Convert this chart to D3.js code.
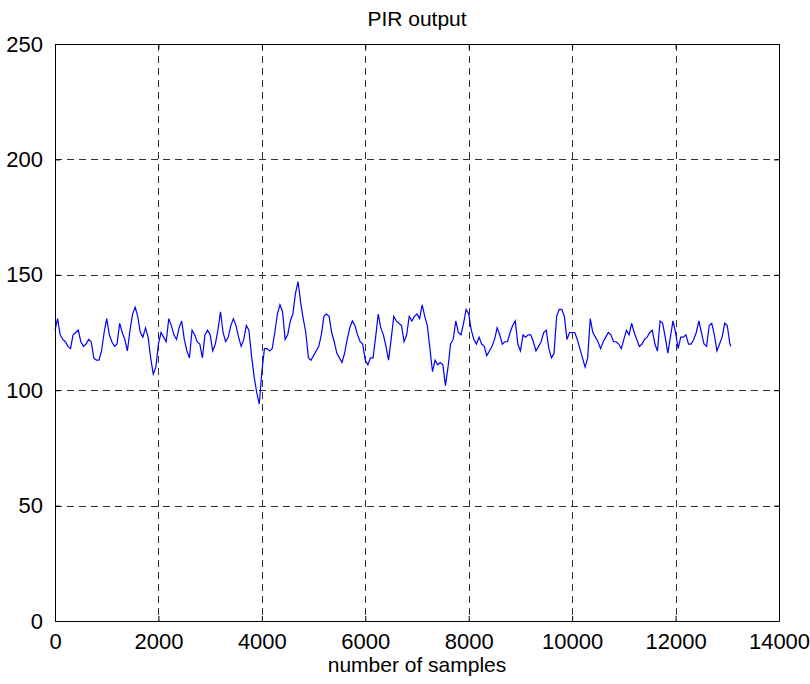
<!DOCTYPE html>
<html lang="en">
<head>
<meta charset="utf-8">
<style>
  body { margin: 0; background: white; }
  svg { background: white; display: block; }
  text { font-family: "Liberation Sans", Arial, Helvetica, sans-serif; fill: black; }
  .grid line { stroke: #333; stroke-width: 1; stroke-dasharray: 7,5; }
  .signal { fill: none; stroke: #0000ff; stroke-width: 1.2; }
</style>
<script src="https://d3js.org/d3.v7.min.js"></script>
</head>
<body>
<script>
// PIR readings, one value every 50 samples
var sampleStep = 50;
var pirValues = [
  126,131,124,122,121,119,118,124,125,126, 121,119,120,122,121,114,113,113,117,125,
  131,124,121,119,120,129,125,122,117,126, 133,136,132,125,123,127,123,114,107,110,
  120,125,123,121,131,128,124,122,127,130, 122,117,114,126,124,121,120,114,124,126,
  124,117,120,126,134,125,121,123,128,131, 128,123,119,122,128,126,115,106,99,94,
  108,118,118,117,118,125,133,137,134,122, 124,130,133,142,147,138,131,125,114,113,
  115,117,119,124,132,133,132,125,121,116, 114,112,116,122,127,130,128,124,121,120,
  113,111,114,114,123,133,127,124,119,113, 122,132,130,129,128,121,124,132,130,132,
  133,131,137,132,128,118,108,113,111,112, 111,102,110,120,122,130,125,124,129,135,
  133,126,122,120,123,120,119,115,117,119, 122,127,124,120,121,121,125,128,130,120,
  117,124,123,124,124,121,117,119,121,125, 126,118,114,116,132,135,135,132,122,125,
  125,125,122,118,114,110,114,131,125,123, 121,118,121,123,125,124,121,121,120,118,
  122,126,124,129,125,122,119,120,122,123, 125,126,120,117,130,129,123,116,123,130,
  125,118,123,123,124,120,120,122,125,130, 125,120,119,128,129,124,117,120,123,129,
  128,120,119
];
var xTicks = [0, 2000, 4000, 6000, 8000, 10000, 12000, 14000];
var yTicks = [0, 50, 100, 150, 200, 250];

var width = 810, height = 684;
var margin = {top: 44, right: 31, bottom: 63, left: 55};
var plotW = width - margin.left - margin.right;
var plotH = height - margin.top - margin.bottom;

var data = pirValues.map(function(v, i) { return {x: i * sampleStep, y: v}; });
data[data.length - 1].x = 13070;

var svg = d3.select("body").append("svg")
  .attr("width", width)
  .attr("height", height);

var g = svg.append("g")
  .attr("transform", "translate(" + margin.left + "," + margin.top + ")");

var x = d3.scaleLinear().domain([0, 14000]).range([0, plotW]);
var y = d3.scaleLinear().domain([0, 250]).range([plotH, 0]);

// dashed grid
var grid = g.append("g").attr("class", "grid");
grid.selectAll(".vg")
  .data(xTicks.slice(1, -1))
  .enter().append("line")
  .attr("x1", function(d) { return Math.round(x(d)) + 0.5; })
  .attr("x2", function(d) { return Math.round(x(d)) + 0.5; })
  .attr("y1", 0).attr("y2", plotH);
grid.selectAll(".hg")
  .data(yTicks.slice(1, -1))
  .enter().append("line")
  .attr("y1", function(d) { return Math.round(y(d)) + 0.5; })
  .attr("y2", function(d) { return Math.round(y(d)) + 0.5; })
  .attr("x1", 0).attr("x2", plotW);

// signal
var line = d3.line()
  .x(function(d) { return x(d.x); })
  .y(function(d) { return y(d.y); });

g.append("path")
  .datum(data)
  .attr("class", "signal")
  .attr("d", line);

// axes, matlab style: ticks inward on all four sides
function styleAxis(sel) {
  sel.selectAll("path").attr("stroke", "black").attr("stroke-width", 1);
  sel.selectAll("line").attr("stroke", "black");
  sel.selectAll("text").style("font-size", "22px");
}

g.append("g")
  .attr("transform", "translate(0," + plotH + ")")
  .call(d3.axisBottom(x).tickValues(xTicks).tickFormat(d3.format("d"))
    .tickSizeInner(-5).tickSizeOuter(0).tickPadding(12))
  .call(styleAxis);

g.append("g")
  .call(d3.axisTop(x).tickValues(xTicks).tickFormat("")
    .tickSizeInner(-5).tickSizeOuter(0))
  .call(styleAxis);

g.append("g")
  .call(d3.axisLeft(y).tickValues(yTicks).tickFormat(d3.format("d"))
    .tickSizeInner(-5).tickSizeOuter(0).tickPadding(12))
  .call(styleAxis);

g.append("g")
  .attr("transform", "translate(" + plotW + ",0)")
  .call(d3.axisRight(y).tickValues(yTicks).tickFormat("")
    .tickSizeInner(-5).tickSizeOuter(0))
  .call(styleAxis);

svg.selectAll(".domain").attr("stroke", "black");

// title and label
svg.append("text")
  .attr("x", margin.left + plotW / 2)
  .attr("y", 26)
  .attr("text-anchor", "middle")
  .style("font-size", "21px")
  .text("PIR output");

svg.append("text")
  .attr("x", margin.left + plotW / 2)
  .attr("y", 672)
  .attr("text-anchor", "middle")
  .style("font-size", "21px")
  .text("number of samples");
</script>
</body>
</html>
